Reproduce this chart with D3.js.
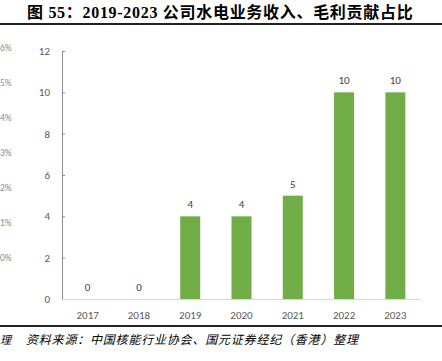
<!DOCTYPE html>
<html>
<head>
<meta charset="utf-8">
<script src="https://cdn.jsdelivr.net/npm/d3@7"></script>
<style>
  body { margin: 0; background: #fff; }
  svg { display: block; }
</style>
</head>
<body>
<svg id="chart" width="442" height="361"></svg>
<script>
// chart data
var years = ["2017", "2018", "2019", "2020", "2021", "2022", "2023"];
var values = [0, 0, 4, 4, 5, 10, 10];
var yTicks = [0, 2, 4, 6, 8, 10, 12];
// leftover labels of the neighbouring chart at the page edge
var sideLabels = ["6%", "5%", "4%", "3%", "2%", "1%", "0%"];

var titleText = "图 55：2019-2023 公司水电业务收入、毛利贡献占比";
var sourceText = "资料来源：中国核能行业协会、国元证券经纪（香港）整理";
var sideNote = "理";

var svg = d3.select("#chart");
var W = 442, H = 361;
var margin = {top: 51, right: 21, bottom: 62, left: 62};

var x = d3.scaleBand()
  .domain(years)
  .range([margin.left, W - margin.right])
  .paddingInner(0.61)
  .paddingOuter(0.305);

var y = d3.scaleLinear()
  .domain([0, 12])
  .range([299, 51]);

var numFont = "Carlito, Calibri, 'Open Sans', sans-serif";

// title
svg.append("text")
  .attr("x", 27)
  .attr("y", 18)
  .attr("font-family", "'Liberation Serif', 'Noto Sans CJK SC', serif")
  .attr("font-weight", "bold")
  .attr("font-size", 16)
  .attr("letter-spacing", 0.7)
  .attr("fill", "#000")
  .text(titleText);

// rules
svg.append("line")
  .attr("x1", 0).attr("x2", W)
  .attr("y1", 24).attr("y2", 24)
  .attr("stroke", "#222").attr("stroke-width", 2);
svg.append("line")
  .attr("x1", 0).attr("x2", W)
  .attr("y1", 326).attr("y2", 326)
  .attr("stroke", "#222").attr("stroke-width", 2);

// source note
svg.append("text")
  .attr("x", 26)
  .attr("y", 344)
  .attr("font-family", "'Noto Sans CJK SC', sans-serif")
  .attr("font-style", "italic")
  .attr("font-size", 12)
  .attr("letter-spacing", 0.8)
  .attr("fill", "#000")
  .text(sourceText);
svg.append("text")
  .attr("x", 0)
  .attr("y", 344)
  .attr("font-family", "'Noto Sans CJK SC', sans-serif")
  .attr("font-style", "italic")
  .attr("font-size", 11)
  .attr("fill", "#000")
  .text(sideNote);

// side labels
svg.append("g").selectAll("text")
  .data(sideLabels)
  .join("text")
  .attr("x", 0)
  .attr("y", function(d, i) { return 51 + i * 35; })
  .attr("font-family", numFont)
  .attr("font-size", 9.5)
  .attr("fill", "#8c8c8c")
  .text(function(d) { return d; });

// y axis
var yAxis = d3.axisLeft(y)
  .tickValues(yTicks)
  .tickSize(-3)
  .tickPadding(12);
var gy = svg.append("g")
  .attr("transform", "translate(" + margin.left + ",0)")
  .call(yAxis);
gy.select(".domain").attr("stroke", "#8c8c8c");
gy.selectAll(".tick line").attr("stroke", "#8c8c8c");
gy.selectAll(".tick text")
  .attr("fill", "#595959")
  .attr("font-family", numFont)
  .attr("font-size", 11);

// x axis
var xAxis = d3.axisBottom(x).tickSize(0).tickPadding(12);
var gx = svg.append("g")
  .attr("transform", "translate(0,299)")
  .call(xAxis);
gx.select(".domain").attr("stroke", "#d9d9d9");
gx.selectAll(".tick text")
  .attr("fill", "#595959")
  .attr("font-family", numFont)
  .attr("font-size", 11);

// bars
svg.append("g").selectAll("rect")
  .data(values)
  .join("rect")
  .attr("x", function(d, i) { return x(years[i]); })
  .attr("y", function(d) { return y(d); })
  .attr("width", x.bandwidth())
  .attr("height", function(d) { return y(0) - y(d); })
  .attr("fill", "#70AD47");

// value labels
svg.append("g").selectAll("text")
  .data(values)
  .join("text")
  .attr("x", function(d, i) { return x(years[i]) + x.bandwidth() / 2; })
  .attr("y", function(d) { return y(d) - 8; })
  .attr("text-anchor", "middle")
  .attr("font-family", numFont)
  .attr("font-size", 11)
  .attr("fill", "#404040")
  .text(function(d) { return d; });
</script>
</body>
</html>
